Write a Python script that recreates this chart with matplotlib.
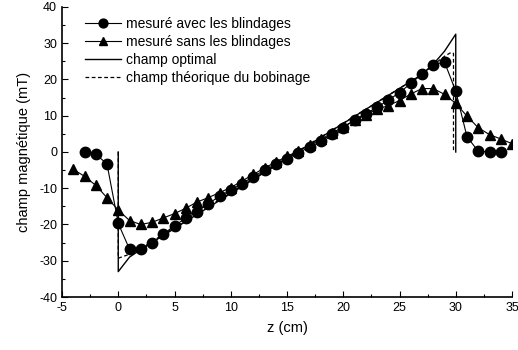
import matplotlib
matplotlib.use("Agg")
import matplotlib.pyplot as plt
from matplotlib.ticker import MultipleLocator

plt.rcParams['font.family'] = ['Liberation Sans', 'DejaVu Sans']
plt.rcParams['axes.unicode_minus'] = False

# Measured with shielding (circles)
z_avec = [-3, -2, -1, 0, 1, 2, 3, 4, 5, 6, 7, 8, 9, 10, 11, 12, 13, 14, 15, 16,
          17, 18, 19, 20, 21, 22, 23, 24, 25, 26, 27, 28, 29, 30, 31, 32, 33, 34]
b_avec = [0.0, -0.6, -3.3, -19.7, -26.8, -26.8, -25.0, -22.7, -20.3, -18.3, -16.5,
          -14.3, -12.2, -10.5, -8.7, -6.8, -5.0, -3.4, -1.8, -0.2, 1.3, 3.0, 4.9,
          6.7, 8.8, 10.6, 12.3, 14.3, 16.4, 18.9, 21.5, 24.1, 24.8, 16.8, 4.2,
          0.2, 0.0, 0.0]

# Measured without shielding (triangles)
z_sans = [-4, -3, -2, -1, 0, 1, 2, 3, 4, 5, 6, 7, 8, 9, 10, 11, 12, 13, 14, 15,
          16, 17, 18, 19, 20, 21, 22, 23, 24, 25, 26, 27, 28, 29, 30, 31, 32, 33,
          34, 35]
b_sans = [-4.8, -6.7, -9.2, -12.6, -16.0, -18.9, -20.0, -19.4, -18.2, -17.0,
          -15.5, -13.8, -12.6, -11.2, -9.8, -8.0, -6.2, -4.4, -2.8, -1.2, 0.3,
          1.8, 3.5, 5.2, 7.0, 8.7, 10.3, 11.8, 12.8, 14.2, 16.0, 17.5, 17.5,
          15.9, 13.4, 9.9, 6.7, 4.8, 3.6, 2.3]

# Optimal field (solid)
z_opt = [0, 0, 1, 2, 27, 28, 29, 30, 30]
b_opt = [0, -33.0, -29.0, -26.9, 21.4, 24.2, 27.8, 32.5, 0]

# Theoretical coil field (dashed)
z_th = [0, 0, 1, 2, 27, 28, 29, 29.6, 29.8, 29.8]
b_th = [0, -29.3, -28.2, -26.6, 21.4, 24.0, 26.4, 27.5, 27.2, 0]

labels = ["mesuré avec les blindages", "mesuré sans les blindages",
          "champ optimal", "champ théorique du bobinage"]

fig = plt.figure(figsize=(5.18, 3.5), dpi=100)
ax = fig.add_axes([62/518, 1 - 297/350, 450/518, 290/350])

h1, = ax.plot(z_avec, b_avec, '-', color='black', lw=0.8, marker='o',
              markersize=7.5, zorder=4, label=labels[0])
h2, = ax.plot(z_sans, b_sans, '-', color='black', lw=0.8, marker='^',
              markersize=6.5, zorder=3, label=labels[1])
h3, = ax.plot(z_opt, b_opt, '-', color='black', lw=1.0, zorder=2, label=labels[2])
h4, = ax.plot(z_th, b_th, '--', color='black', lw=0.9, dashes=(3, 2), zorder=2,
              label=labels[3])

ax.set_xlim(-5, 35)
ax.set_ylim(-40, 40)
ax.xaxis.set_major_locator(MultipleLocator(5))
ax.xaxis.set_minor_locator(MultipleLocator(2.5))
ax.yaxis.set_major_locator(MultipleLocator(10))
ax.yaxis.set_minor_locator(MultipleLocator(5))
ax.tick_params(which='both', direction='in', labelsize=9, width=0.8)
ax.tick_params(which='major', length=4)
ax.tick_params(which='minor', length=2.5)
ax.spines['top'].set_visible(False)
ax.spines['right'].set_visible(False)
ax.spines['left'].set_linewidth(1.2)
ax.spines['bottom'].set_linewidth(1.2)

ax.set_xlabel("z (cm)", fontsize=10.5, labelpad=5)
ax.set_ylabel("champ magnétique (mT)", fontsize=10.5, labelpad=6)

ax.legend(handles=[h1, h2, h3, h4], loc='upper left', frameon=False,
          fontsize=10, handlelength=2.6, labelspacing=0.3, handletextpad=0.3,
          borderaxespad=0.3, bbox_to_anchor=(0.03, 1.0), markerscale=0.85)

fig.savefig("out.png", dpi=100)
